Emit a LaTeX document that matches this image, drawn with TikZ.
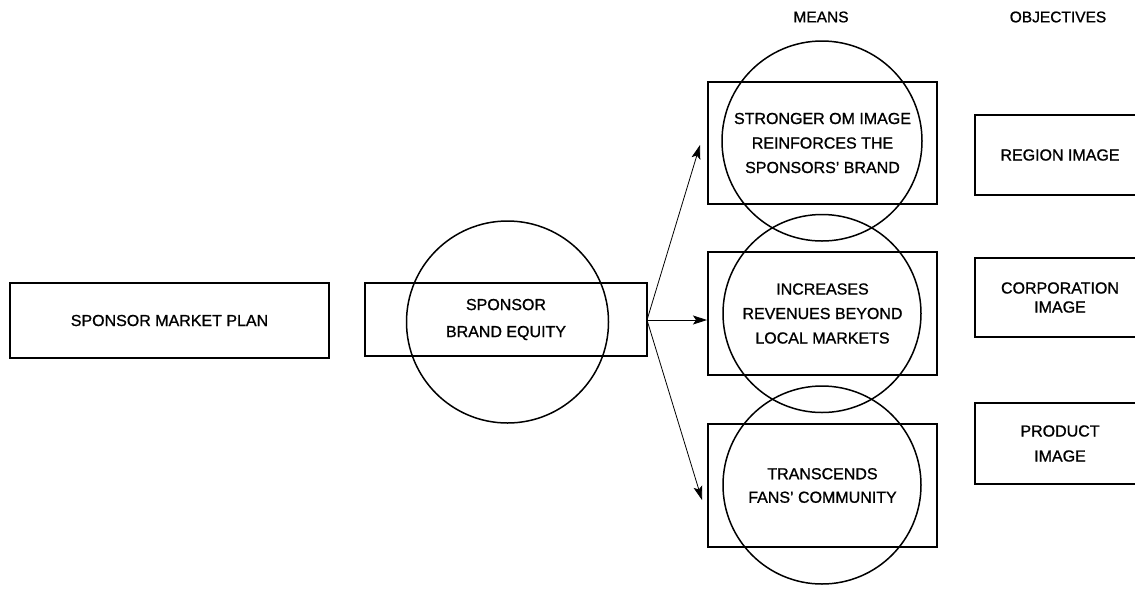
\documentclass[tikz,border=0pt]{standalone}
\usepackage{fontspec}
\setmainfont{Liberation Sans}[RawFeature={embolden=1.0}]
\usetikzlibrary{arrows.meta}
\begin{document}
\begin{tikzpicture}[x=1pt,y=-1pt,
  box/.style={draw, line width=1.1pt, inner sep=0pt, align=center,
    font=\fontsize{16}{24.5}\selectfont},
  ring/.style={draw, circle, line width=1.5pt, inner sep=0pt, minimum size=#1},
  head/.style={font=\fontsize{15.5}{18}\selectfont, inner sep=0pt},
  conn/.style={line width=0.8pt, -{Stealth[length=14pt,width=9pt,inset=3pt]}}]
\useasboundingbox (0,0) rectangle (1135,598);
\clip (0,0) rectangle (1135,598);
% headers
\node[head] (hm) at (821,17) {MEANS};
\node[head] (ho) at (1058,17) {OBJECTIVES};
% left box
\node[box, minimum width=319pt, minimum height=75pt] (smp) at (169.5,320.5) {SPONSOR MARKET PLAN};
% sponsor brand equity
\node[box, minimum width=282pt, minimum height=73pt, font=\fontsize{16}{27}\selectfont] (sbe) at (506,319.5) {SPONSOR\\BRAND EQUITY};
\node[ring=202pt] (sbec) at (507.5,322) {};
% means
\node[box, minimum width=229pt, minimum height=122pt] (m1) at (822.5,143) {STRONGER OM IMAGE\\REINFORCES THE\\SPONSORS' BRAND};
\node[ring=200pt] (m1c) at (822,141) {};
\node[box, minimum width=229pt, minimum height=123pt] (m2) at (822.5,313.5) {INCREASES\\REVENUES BEYOND\\LOCAL MARKETS};
\node[ring=198pt] (m2c) at (822,313.5) {};
\node[box, minimum width=229pt, minimum height=123pt, font=\fontsize{16}{23.5}\selectfont] (m3) at (822.5,485.5) {TRANSCENDS\\FANS' COMMUNITY};
\node[ring=198pt] (m3c) at (822,485) {};
% objectives
\node[box, minimum width=170pt, minimum height=80pt] (o1) at (1060,155) {REGION IMAGE};
\node[box, minimum width=170pt, minimum height=79pt, font=\fontsize{16}{19}\selectfont] (o2) at (1060,297.5) {CORPORATION\\IMAGE};
\node[box, minimum width=170pt, minimum height=81pt, font=\fontsize{16}{25}\selectfont] (o3) at (1060,443.5) {PRODUCT\\IMAGE};
% arrows
\coordinate (s) at (647,320);
\coordinate (t1) at (700,145);
\coordinate (t2) at (707,320);
\coordinate (t3) at (702,500);
\draw[conn] (s) -- (t1);
\draw[conn] (s) -- (t2);
\draw[conn] (s) -- (t3);
\end{tikzpicture}
\end{document}
